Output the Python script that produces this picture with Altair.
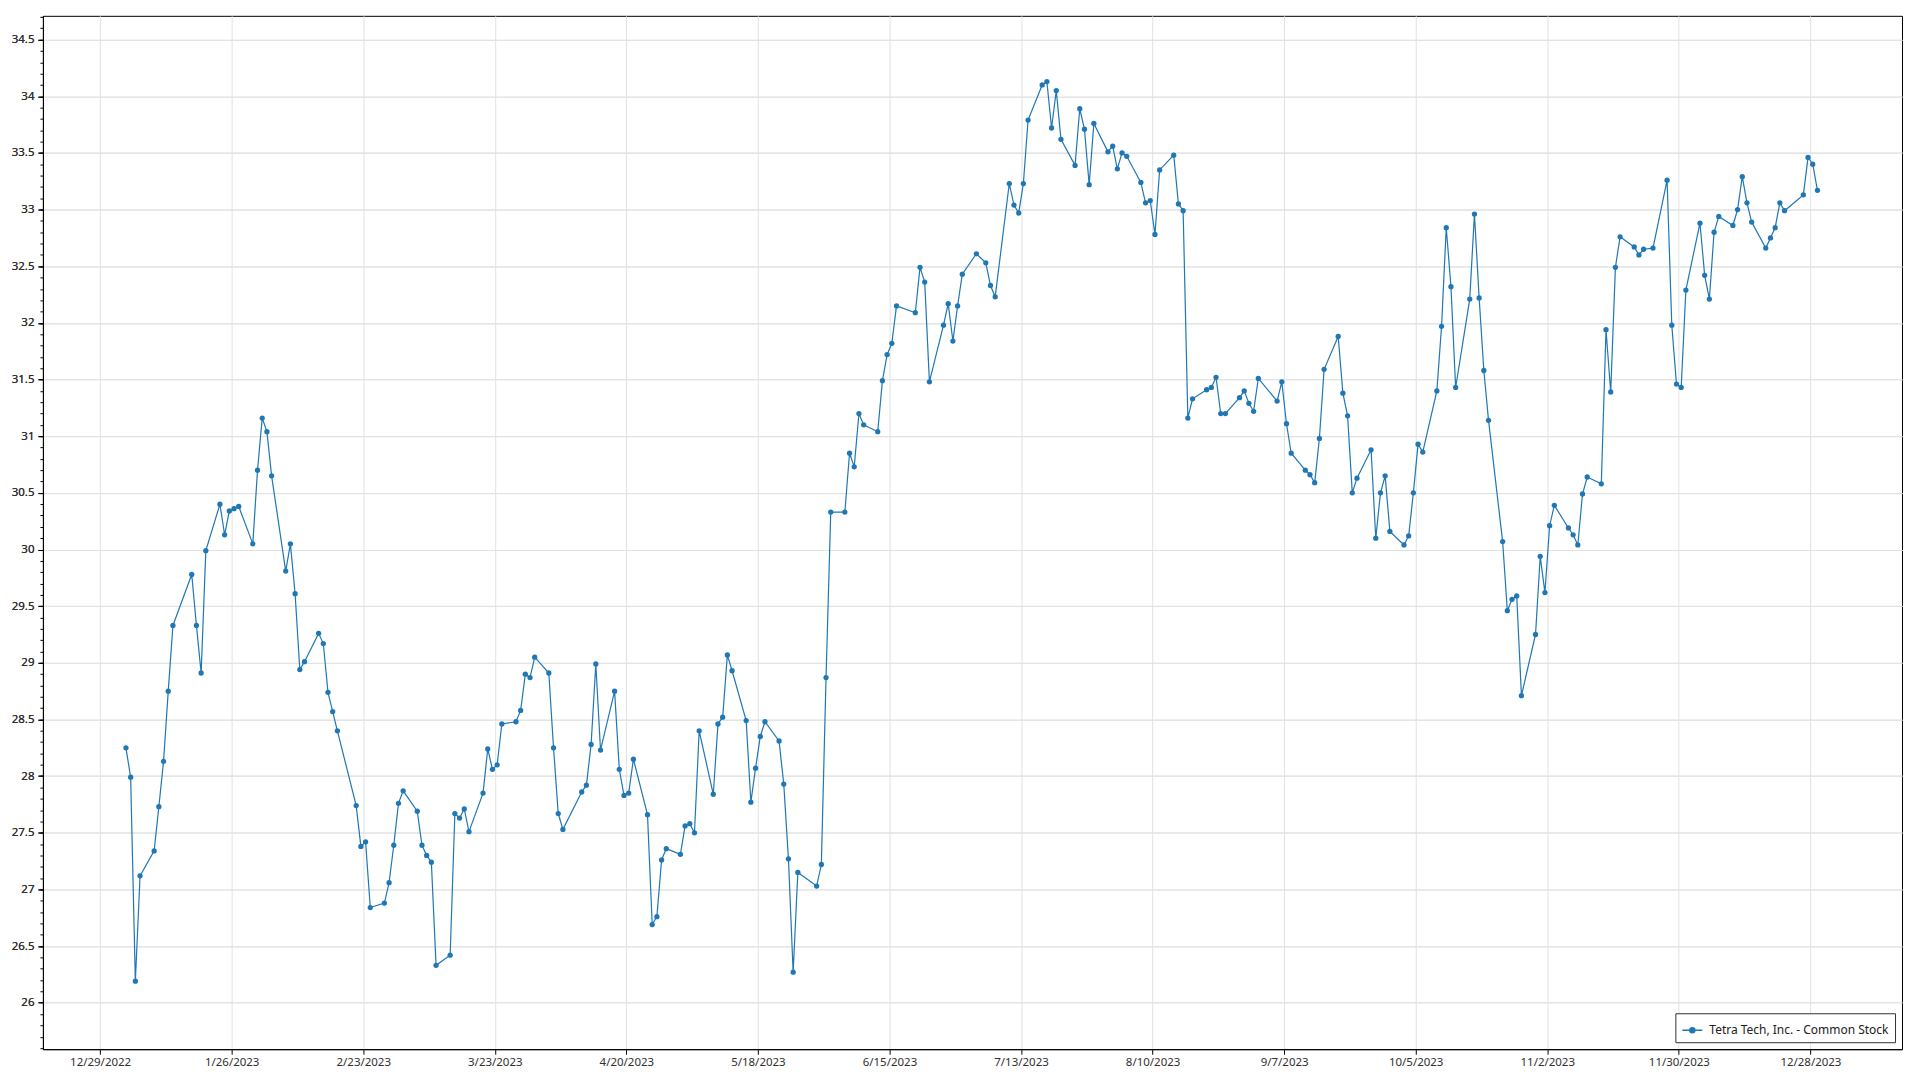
import altair as alt
import pandas as pd
import numpy as np

SERIES = "Tetra Tech, Inc. - Common Stock"
COLOR = "#1f77b4"
FONT = "Segoe UI, Noto Sans, Open Sans, sans-serif"

# closing prices, one list per month (trading days of 2023)
jan = [28.25, 27.99, 26.19, 27.12, 27.34, 27.73, 28.13, 28.75, 29.33, 29.78,
       29.33, 28.91, 29.99, 30.40, 30.13, 30.34, 30.36, 30.38, 30.05, 30.70]
feb = [31.16, 31.04, 30.65, 29.81, 30.05, 29.61, 28.94, 29.01, 29.26, 29.17,
       28.74, 28.57, 28.40, 27.74, 27.38, 27.42, 26.84, 26.88, 27.06]
mar = [27.39, 27.76, 27.87, 27.69, 27.39, 27.30, 27.24, 26.33, 26.42, 27.67,
       27.63, 27.71, 27.51, 27.85, 28.24, 28.06, 28.10, 28.46, 28.48, 28.58,
       28.90, 28.87, 29.05]
apr = [28.91, 28.25, 27.67, 27.53, 27.86, 27.92, 28.28, 28.99, 28.23, 28.75,
       28.06, 27.83, 27.85, 28.15, 27.66, 26.69, 26.76, 27.26, 27.36]
may = [27.31, 27.56, 27.58, 27.50, 28.40, 27.84, 28.46, 28.52, 29.07, 28.93,
       28.49, 27.77, 28.07, 28.35, 28.48, 28.31, 27.93, 27.27, 26.27, 27.15,
       27.03, 27.22]
jun = [28.87, 30.33, 30.33, 30.85, 30.73, 31.20, 31.10, 31.04, 31.49, 31.72,
       31.82, 32.15, 32.09, 32.49, 32.36, 31.48, 31.98, 32.17, 31.84, 32.15,
       32.43]
jul = [32.61, 32.53, 32.33, 32.23, 33.23, 33.04, 32.97, 33.23, 33.79, 34.10,
       34.13, 33.72, 34.05, 33.62, 33.39, 33.89, 33.71, 33.22, 33.76, 33.51]
aug = [33.56, 33.36, 33.50, 33.47, 33.24, 33.06, 33.08, 32.78, 33.35, 33.48,
       33.05, 32.99, 31.16, 31.33, 31.41, 31.43, 31.52, 31.20, 31.20, 31.34,
       31.40, 31.29, 31.22]
sep = [31.51, 31.31, 31.48, 31.11, 30.85, 30.70, 30.66, 30.59, 30.98, 31.59,
       31.88, 31.38, 31.18, 30.50, 30.63, 30.88, 30.10, 30.50, 30.65, 30.16]
oct_ = [30.04, 30.12, 30.50, 30.93, 30.86, 31.40, 31.97, 32.84, 32.32, 31.43,
        32.21, 32.96, 32.22, 31.58, 31.14, 30.07, 29.46, 29.56, 29.59, 28.71,
        29.25, 29.94]
nov = [29.62, 30.21, 30.39, 30.19, 30.13, 30.04, 30.49, 30.64, 30.58, 31.94,
       31.39, 32.49, 32.76, 32.67, 32.60, 32.65, 32.66, 33.26, 31.98, 31.46,
       31.43]
dec = [32.29, 32.88, 32.42, 32.21, 32.80, 32.94, 32.86, 33.00, 33.29, 33.06,
       32.89, 32.66, 32.75, 32.84, 33.06, 32.99, 33.13, 33.46, 33.40, 33.17]

holidays = ["2023-01-02", "2023-01-16", "2023-02-20", "2023-04-07", "2023-05-29",
            "2023-06-19", "2023-07-04", "2023-09-04", "2023-11-23", "2023-12-25"]

x_ticks = ["2022-12-29", "2023-01-26", "2023-02-23", "2023-03-23", "2023-04-20",
           "2023-05-18", "2023-06-15", "2023-07-13", "2023-08-10", "2023-09-07",
           "2023-10-05", "2023-11-02", "2023-11-30", "2023-12-28"]
y_major = [26, 26.5, 27, 27.5, 28, 28.5, 29, 29.5, 30, 30.5, 31, 31.5, 32,
           32.5, 33, 33.5, 34, 34.5]
x_range = ["2022-12-16T20:00:00Z", "2024-01-16T12:00:00Z"]
y_range = [25.59, 34.71]

values = jan + feb + mar + apr + may + jun + jul + aug + sep + oct_ + nov + dec
days = [d.strftime("%Y-%m-%dT12:00:00Z")
        for d in pd.bdate_range("2023-01-03", "2023-12-29")
        if d.strftime("%Y-%m-%d") not in holidays]
assert len(days) == len(values)

df = pd.DataFrame({"date": days, "price": values, "series": SERIES})


def ms(s):
    t = pd.Timestamp(s)
    if t.tzinfo is None:
        t = t.tz_localize("UTC")
    return int(t.value // 10**6)


x_tick_ms = [ms(s) for s in x_ticks]
y_minor = [round(v, 1) for v in np.arange(25.6, 34.71, 0.1)]

x_enc = alt.X(
    "date:T",
    scale=alt.Scale(type="utc", domain=[ms(x_range[0]), ms(x_range[1])], nice=False),
    axis=alt.Axis(
        values=x_tick_ms,
        labelExpr="utcFormat(datum.value, '%-m/%-d/%Y')",
        title=None, grid=True, gridColor="#e2e2e2", gridWidth=1,
        domainColor="black", tickColor="black", tickSize=5, labelPadding=2,
        labelFont=FONT, labelFontSize=11.5, labelColor="#303030",
        labelFlush=False, labelOverlap=False,
    ),
)
y_scale = alt.Scale(domain=y_range, nice=False, zero=False)
y_enc = alt.Y(
    "price:Q",
    scale=y_scale,
    axis=alt.Axis(
        values=y_major, format="~g", title=None, grid=True, gridColor="#e2e2e2",
        gridWidth=1, domainColor="black", tickColor="black", tickSize=5,
        labelPadding=4, labelFont=FONT, labelFontSize=11.5, labelColor="#303030",
        labelFlush=False, labelOverlap=False, orient="left",
    ),
)
y_minor_enc = alt.Y(
    "price:Q",
    scale=y_scale,
    axis=alt.Axis(
        values=y_minor, labels=False, grid=False, domain=False, title=None,
        tickColor="black", tickSize=3, orient="left",
    ),
)

legend_symbol = ("M-1,0L1,0M0.25,0A0.25,0.25 0 1,0 -0.25,0"
                 "A0.25,0.25 0 1,0 0.25,0Z")

base = alt.Chart(df)

minor = base.mark_point(opacity=0).encode(x=x_enc, y=y_minor_enc)

line = base.mark_line(color=COLOR, strokeWidth=1.2).encode(
    x=x_enc,
    y=y_enc,
    color=alt.Color(
        "series:N",
        scale=alt.Scale(range=[COLOR]),
        legend=alt.Legend(
            title=None, orient="bottom-right", offset=7,
            strokeColor="#333333", fillColor="white", padding=6,
            cornerRadius=0, symbolType=legend_symbol, symbolSize=400,
            symbolStrokeWidth=1.5, symbolFillColor=COLOR,
            symbolStrokeColor=COLOR, labelFont=FONT, labelFontSize=12,
            labelColor="#202020", labelOffset=6, labelLimit=0,
        ),
    ),
)
pts = base.mark_circle(color=COLOR, size=28, opacity=1).encode(x=x_enc, y=y_enc)

chart = (
    alt.layer(minor, line, pts)
    .resolve_axis(y="independent")
    .resolve_scale(y="shared")
    .properties(
        width=1862, height=1035,
        autosize=alt.AutoSizeParams(type="none"),
        padding={"left": 35, "top": 7, "right": 10, "bottom": 25},
        background="white",
    )
    .configure_view(stroke="black", strokeWidth=1)
)

chart.save("out.html", embed_options={"renderer": "svg", "actions": False})
